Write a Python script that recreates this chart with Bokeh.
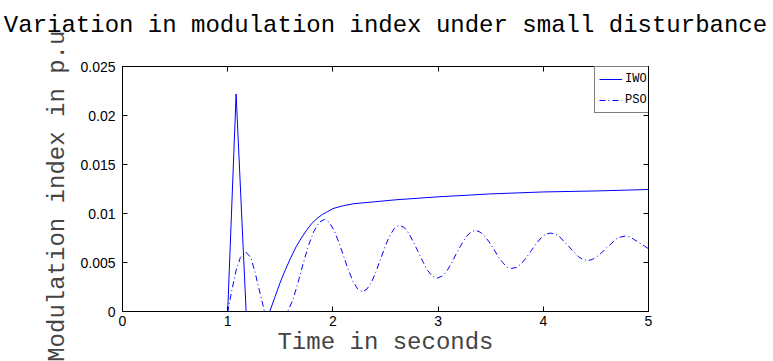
from bokeh.plotting import figure
from bokeh.models import Range1d, FixedTicker, LinearAxis, Legend, LegendItem, Title
from bokeh.embed import file_html
from bokeh.resources import INLINE

# ---- data ----
iwo_t = [0, 1.0, 1.08, 1.175, 1.40, 1.45, 1.50, 1.55, 1.60, 1.65, 1.70, 1.75, 1.80,
         1.85, 1.90, 1.95, 2.00, 2.10, 2.20, 2.40, 2.60, 3.00, 3.50, 4.00, 4.50, 5.00]
iwo_v = [0, 0, 0.0222, 0, 0, 0.0015, 0.0030, 0.0043, 0.0055, 0.0066, 0.0075, 0.0083, 0.0090,
         0.0095, 0.0099, 0.0102, 0.0105, 0.0108, 0.0110, 0.0112, 0.0114, 0.0117, 0.0120, 0.0122,
         0.0123, 0.01245]

pso_t = [0, 1.00, 1.04, 1.08, 1.12, 1.17, 1.22, 1.26, 1.30, 1.35, 1.57, 1.62, 1.67, 1.72, 1.77,
         1.82, 1.87, 1.92,
         1.965, 2.01, 2.055, 2.10, 2.145, 2.19, 2.235, 2.28,
         2.324, 2.368, 2.411, 2.455, 2.499, 2.543, 2.586, 2.63,
         2.675, 2.72, 2.765, 2.81, 2.855, 2.90, 2.945, 2.99,
         3.036, 3.081, 3.127, 3.173, 3.219, 3.264, 3.31, 3.356,
         3.399, 3.442, 3.485, 3.528, 3.571, 3.614, 3.657, 3.70,
         3.746, 3.793, 3.839, 3.885, 3.931, 3.978, 4.024, 4.07,
         4.114, 4.158, 4.201, 4.245, 4.289, 4.333, 4.376, 4.42,
         4.465, 4.51, 4.555, 4.60, 4.645, 4.69, 4.735, 4.78,
         4.825, 4.87, 4.915, 4.96, 5.00]
pso_v = [0, 0, 0.0022, 0.0042, 0.0055, 0.0061, 0.0055, 0.0040, 0.0022, 0, 0, 0.0012, 0.0030,
         0.0050, 0.0068, 0.0082, 0.0091, 0.0094,
         0.0091, 0.0083, 0.0071, 0.0057, 0.0043, 0.0031, 0.0023, 0.0020,
         0.0023, 0.0030, 0.0041, 0.0054, 0.0067, 0.0078, 0.0085, 0.0088,
         0.0086, 0.0080, 0.0071, 0.0061, 0.0051, 0.0042, 0.0036, 0.0034,
         0.0036, 0.0041, 0.0049, 0.0059, 0.0068, 0.0076, 0.0081, 0.0083,
         0.0081, 0.0077, 0.0071, 0.0064, 0.0056, 0.0050, 0.0045, 0.0044,
         0.0045, 0.0049, 0.0055, 0.0062, 0.0069, 0.0075, 0.0079, 0.0080,
         0.0079, 0.0076, 0.0071, 0.0066, 0.0061, 0.0056, 0.0053, 0.0052,
         0.0053, 0.0056, 0.0060, 0.0065, 0.0069, 0.0074, 0.0076, 0.0077,
         0.0076, 0.0073, 0.0070, 0.0067, 0.0064]

x_ticks = [0, 1, 2, 3, 4, 5]
x_tick_labels = ["0", "1", "2", "3", "4", "5"]
y_ticks = [0, 0.005, 0.01, 0.015, 0.02, 0.025]
y_tick_labels = ["0", "0.005", "0.01", "0.015", "0.02", "0.025"]

title_text = "Variation in modulation index under small disturbance"
x_label = "Time in seconds"
y_label = "Modulation index in p.u"
series_names = ["IWO", "PSO"]

MONO = "Liberation Mono"
SANS = "Liberation Sans"
BLUE = "#0000ff"

p = figure(width=773, height=361, output_backend="svg", toolbar_location=None,
           x_range=Range1d(0, 5), y_range=Range1d(0, 0.025),
           min_border_left=122, min_border_right=125, min_border_top=66, min_border_bottom=50,
           background_fill_color="white", border_fill_color="white")

p.xgrid.visible = False
p.ygrid.visible = False
p.outline_line_color = "black"
p.outline_line_width = 1

def style_axis(ax, ticks, labels, show_labels=True):
    ax.ticker = FixedTicker(ticks=ticks)
    ax.major_label_overrides = {t: l for t, l in zip(ticks, labels)}
    ax.major_tick_in = 5
    ax.major_tick_out = 0
    ax.minor_tick_line_color = None
    ax.axis_line_color = "black"
    ax.major_tick_line_color = "black"
    ax.major_label_text_font = SANS
    ax.major_label_text_font_size = "14px" if show_labels else "0px"
    ax.major_label_text_color = "black"

style_axis(p.xaxis[0], x_ticks, x_tick_labels)
style_axis(p.yaxis[0], y_ticks, y_tick_labels)
p.xaxis[0].major_label_standoff = 4
p.yaxis[0].major_label_standoff = 7

p.xaxis[0].axis_label = x_label
p.xaxis[0].axis_label_text_font = MONO
p.xaxis[0].axis_label_text_font_size = "24px"
p.xaxis[0].axis_label_text_font_style = "normal"
p.xaxis[0].axis_label_standoff = 0
# a trailing no-break space nudges the (centred) label a little lower, as in the reference
p.yaxis[0].axis_label = y_label + "\u00a0"
p.yaxis[0].axis_label_text_font = MONO
p.yaxis[0].axis_label_text_font_size = "24px"
p.yaxis[0].axis_label_text_font_style = "normal"
p.yaxis[0].axis_label_standoff = 6

top_ax = LinearAxis()
style_axis(top_ax, x_ticks, ["" for _ in x_ticks], show_labels=False)
top_ax.major_label_standoff = 0
p.add_layout(top_ax, "above")
right_ax = LinearAxis()
style_axis(right_ax, y_ticks, ["" for _ in y_ticks], show_labels=False)
right_ax.major_label_standoff = 0
p.add_layout(right_ax, "right")

# empty spacer between the frame and the title, then the title (outermost)
spacer = Title(text=" ", text_font=MONO, text_font_size="23px", standoff=0)
p.add_layout(spacer, "above")
p.title.text = title_text
p.title.text_font = MONO
p.title.text_font_size = "24px"
p.title.text_font_style = "normal"
p.title.align = "center"
p.title.text_color = "black"
p.title.standoff = 0

r1 = p.line(iwo_t, iwo_v, line_color=BLUE, line_width=1)
r2 = p.line(pso_t, pso_v, line_color=BLUE, line_width=1, line_dash="6 3 1 3")

legend = Legend(items=[LegendItem(label=series_names[0], renderers=[r1]),
                       LegendItem(label=series_names[1], renderers=[r2])],
                location=(472, 198), orientation="vertical")
legend.label_text_font = MONO
legend.label_text_font_size = "12px"
legend.label_text_color = "black"
legend.glyph_width = 23
legend.glyph_height = 16
legend.label_height = 16
legend.label_standoff = 3
legend.padding = 4
legend.spacing = 5
legend.margin = 0
legend.border_line_color = "black"
legend.border_line_width = 1
legend.background_fill_color = "white"
legend.background_fill_alpha = 1
p.add_layout(legend, "center")

open("out.html", "w").write(file_html(p, INLINE))
